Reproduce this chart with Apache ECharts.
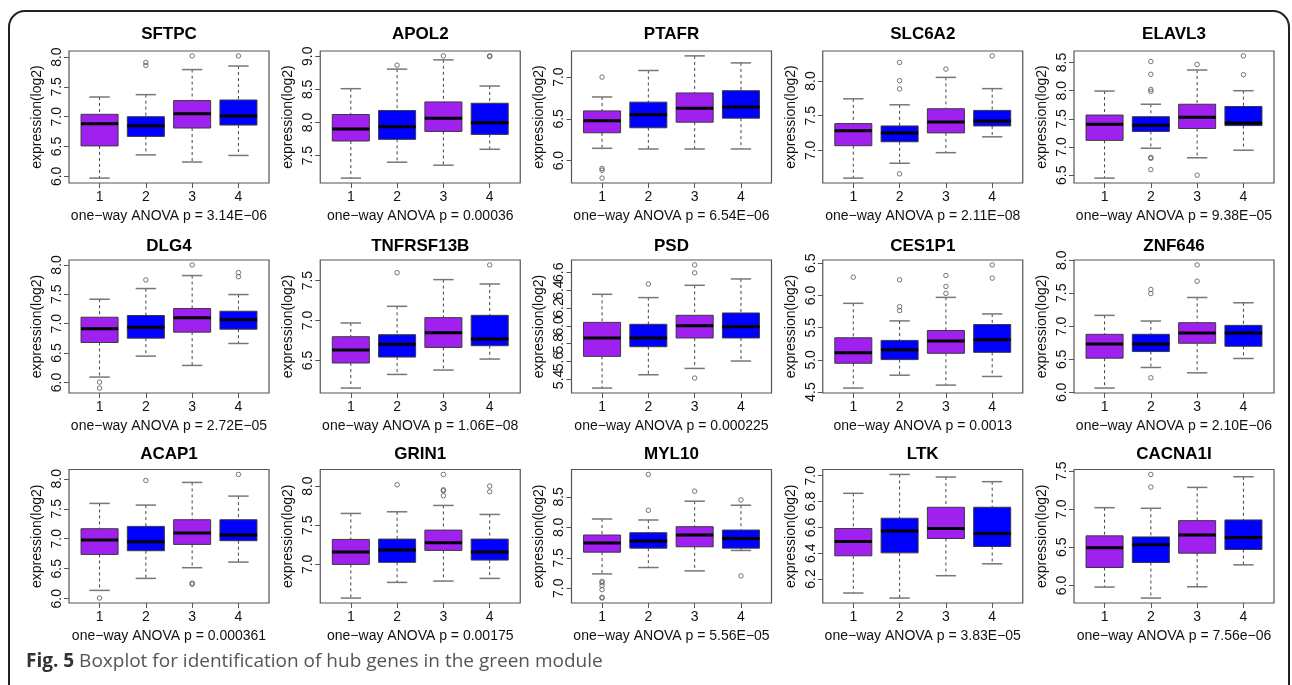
<!DOCTYPE html>
<html><head><meta charset="utf-8">
<script src="https://cdn.jsdelivr.net/npm/echarts@6/dist/echarts.min.js"></script>
<style>html,body{margin:0;padding:0;background:#fff}#c{width:1292px;height:685px}</style>
</head><body><div id="c"></div>
<script>
// ---------- DATA ----------
const groups = [1, 2, 3, 4];
const genes = ['SFTPC','APOL2','PTAFR','SLC6A2','ELAVL3','DLG4','TNFRSF13B','PSD','CES1P1','ZNF646','ACAP1','GRIN1','MYL10','LTK','CACNA1I'];
const pValues = ['3.14E\u221206','0.00036','6.54E\u221206','2.11E\u221208','9.38E\u221205','2.72E\u221205','1.06E\u221208','0.000225','0.0013','2.10E\u221206','0.000361','0.00175','5.56E\u221205','3.83E\u221205','7.56e\u221206'];

// box stats per group: [lower whisker, Q1, median, Q3, upper whisker]
const boxSFTPC = [[5.97,6.51,6.88,7.04,7.33],[6.36,6.67,6.85,7.00,7.37],[6.24,6.81,7.05,7.27,7.79],[6.35,6.86,7.01,7.28,7.85]];
const outSFTPC = [[2,7.91],[2,7.86],[3,8.02],[4,8.02]];
const ticksSFTPC = [6.0,6.5,7.0,7.5,8.0];

const boxAPOL2 = [[7.16,7.72,7.90,8.12,8.51],[7.40,7.745,7.935,8.18,8.805],[7.355,7.865,8.065,8.31,8.945],[7.595,7.82,7.995,8.29,8.55]];
const outAPOL2 = [[2,8.865],[3,9.005],[4,9.005],[4,8.995]];
const ticksAPOL2 = [7.5,8.0,8.5,9.0];

const boxPTAFR = [[6.147,6.333,6.476,6.595,6.762],[6.139,6.393,6.548,6.70,7.079],[6.139,6.46,6.627,6.81,7.254],[6.139,6.508,6.643,6.837,7.17]];
const outPTAFR = [[1,7.0],[1,5.905],[1,5.885],[1,5.79]];
const ticksPTAFR = [6.0,6.5,7.0];

const boxSLC6A2 = [[6.6,7.067,7.281,7.386,7.743],[6.814,7.124,7.252,7.352,7.657],[6.967,7.252,7.41,7.6,8.052],[7.195,7.352,7.424,7.576,7.89]];
const outSLC6A2 = [[2,8.267],[2,8.005],[2,7.886],[2,6.662],[3,8.171],[4,8.362]];
const ticksSLC6A2 = [7.0,7.5,8.0];

const boxELAVL3 = [[6.448,7.118,7.404,7.567,7.993],[6.978,7.276,7.386,7.538,7.759],[6.809,7.328,7.526,7.759,8.366],[6.943,7.38,7.427,7.719,7.999]];
const outELAVL3 = [[2,8.517],[2,8.29],[2,8.022],[2,7.987],[2,6.815],[2,6.80],[2,6.599],[3,8.465],[3,6.5],[4,8.617],[4,8.284]];
const ticksELAVL3 = [6.5,7.0,7.5,8.0,8.5];

const boxDLG4 = [[6.091,6.68,6.912,7.11,7.416],[6.448,6.754,6.94,7.139,7.598],[6.289,6.856,7.099,7.258,7.819],[6.663,6.906,7.065,7.212,7.496]];
const outDLG4 = [[1,6.006],[1,5.904],[2,7.745],[3,8.0],[4,7.87],[4,7.80]];
const ticksDLG4 = [6.0,6.5,7.0,7.5,8.0];

const boxTNFRSF13B = [[6.153,6.467,6.63,6.797,6.969],[6.324,6.542,6.701,6.822,7.178],[6.379,6.663,6.847,7.036,7.513],[6.517,6.684,6.768,7.065,7.458]];
const outTNFRSF13B = [[2,7.6],[4,7.697]];
const ticksTNFRSF13B = [6.5,7.0,7.5];

const boxPSD = [[5.303,5.658,5.864,6.039,6.353],[5.452,5.766,5.864,6.017,6.316],[5.523,5.864,6.002,6.118,6.454],[5.606,5.864,5.991,6.144,6.525]];
const outPSD = [[2,6.469],[3,6.682],[3,6.593],[3,5.415]];
const ticksPSD = [5.4,5.6,5.8,6.0,6.2,6.4,6.6];

const boxCES1P1 = [[4.562,4.947,5.112,5.343,5.878],[4.762,5.004,5.158,5.302,5.605],[4.608,5.102,5.292,5.456,5.97],[4.742,5.117,5.312,5.549,5.713]];
const outCES1P1 = [[1,6.284],[2,6.243],[2,5.826],[2,5.765],[3,6.31],[3,6.14],[3,6.032],[4,6.474],[4,6.269]];
const ticksCES1P1 = [4.5,5.0,5.5,6.0,6.5];

const boxZNF646 = [[6.065,6.518,6.734,6.879,7.166],[6.377,6.618,6.734,6.879,7.08],[6.296,6.744,6.9,7.055,7.437],[6.513,6.698,6.9,7.015,7.357]];
const outZNF646 = [[2,7.558],[2,7.497],[2,6.221],[3,7.93],[3,7.683]];
const ticksZNF646 = [6.0,6.5,7.0,7.5,8.0];

const boxACAP1 = [[6.139,6.739,6.978,7.167,7.589],[6.339,6.8,6.95,7.206,7.561],[6.517,6.906,7.094,7.317,7.939],[6.611,6.967,7.061,7.317,7.711]];
const outACAP1 = [[1,6.011],[2,7.972],[3,6.261],[3,6.24],[4,8.072]];
const ticksACAP1 = [6.0,6.5,7.0,7.5,8.0];

const boxGRIN1 = [[6.57,7.0,7.157,7.319,7.651],[6.77,7.026,7.183,7.323,7.672],[6.787,7.179,7.277,7.438,7.753],[6.821,7.055,7.157,7.323,7.638]];
const outGRIN1 = [[2,8.017],[3,8.149],[3,7.953],[3,7.94],[3,7.877],[4,8.0],[4,7.928]];
const ticksGRIN1 = [7.0,7.5,8.0];

const boxMYL10 = [[7.236,7.593,7.742,7.874,8.137],[7.341,7.659,7.775,7.912,8.121],[7.286,7.681,7.874,8.011,8.429],[7.621,7.659,7.819,7.956,8.363]];
const outMYL10 = [[1,7.115],[1,7.09],[1,7.044],[1,6.978],[1,6.852],[1,6.84],[2,8.28],[2,8.868],[3,8.593],[4,8.451],[4,7.203]];
const ticksMYL10 = [7.0,7.5,8.0,8.5];

const boxLTK = [[6.092,6.38,6.491,6.591,6.864],[6.053,6.403,6.573,6.671,7.01],[6.226,6.514,6.591,6.756,6.99],[6.318,6.452,6.552,6.756,6.954]];
const outLTK = [];
const ticksLTK = [6.2,6.4,6.6,6.8,7.0];

const boxCACNA1I = [[5.978,6.235,6.493,6.65,7.02],[5.834,6.3,6.532,6.636,7.012],[5.982,6.423,6.663,6.85,7.286],[6.27,6.471,6.628,6.859,7.426]];
const outCACNA1I = [[2,7.456],[2,7.291]];
const ticksCACNA1I = [6.0,6.5,7.0,7.5];

const caption = 'Boxplot for identification of hub genes in the green module';

// ---------- BUILD ----------
const boxes = [boxSFTPC,boxAPOL2,boxPTAFR,boxSLC6A2,boxELAVL3,boxDLG4,boxTNFRSF13B,boxPSD,boxCES1P1,boxZNF646,boxACAP1,boxGRIN1,boxMYL10,boxLTK,boxCACNA1I];
const outs = [outSFTPC,outAPOL2,outPTAFR,outSLC6A2,outELAVL3,outDLG4,outTNFRSF13B,outPSD,outCES1P1,outZNF646,outACAP1,outGRIN1,outMYL10,outLTK,outCACNA1I];
const ticks = [ticksSFTPC,ticksAPOL2,ticksPTAFR,ticksSLC6A2,ticksELAVL3,ticksDLG4,ticksTNFRSF13B,ticksPSD,ticksCES1P1,ticksZNF646,ticksACAP1,ticksGRIN1,ticksMYL10,ticksLTK,ticksCACNA1I];

const FONT = '"Liberation Sans", Arial, sans-serif';
const colLeft = [69, 320.25, 571.5, 822.75, 1074];
const rowTop = [51, 260, 469.5];
const rowH = [132, 133, 133.5];
const titleY = [34, 246, 454];
const PW = 200;
const fills = ['#A020F0', '#0000FF', '#A020F0', '#0000FF'];

function renderBox(params, api) {
  const x = api.value(0);
  const pMin = api.coord([x, api.value(1)]);
  const pQ1 = api.coord([x, api.value(2)]);
  const pMed = api.coord([x, api.value(3)]);
  const pQ3 = api.coord([x, api.value(4)]);
  const pMax = api.coord([x, api.value(5)]);
  const bw = api.size([0.8, 0])[0];
  const cw = bw * 0.55;
  const cx = pMin[0];
  const dash = {stroke: '#444', lineWidth: 1, lineDash: [3, 3]};
  const cap = {stroke: '#777', lineWidth: 1.5};
  return {
    type: 'group',
    children: [
      {type: 'line', shape: {x1: cx, y1: pMax[1], x2: cx, y2: pQ3[1]}, style: dash},
      {type: 'line', shape: {x1: cx, y1: pQ1[1], x2: cx, y2: pMin[1]}, style: dash},
      {type: 'line', shape: {x1: cx - cw / 2, y1: pMax[1], x2: cx + cw / 2, y2: pMax[1]}, style: cap},
      {type: 'line', shape: {x1: cx - cw / 2, y1: pMin[1], x2: cx + cw / 2, y2: pMin[1]}, style: cap},
      {type: 'rect', shape: {x: cx - bw / 2, y: pQ3[1], width: bw, height: pQ1[1] - pQ3[1]},
        style: {fill: fills[params.dataIndex], stroke: '#3a3a3a', lineWidth: 1}},
      {type: 'line', shape: {x1: cx - bw / 2, y1: pMed[1], x2: cx + bw / 2, y2: pMed[1]}, style: {stroke: '#000', lineWidth: 3}}
    ]
  };
}

const option = {
  animation: false,
  backgroundColor: '#fff',
  title: [], grid: [], xAxis: [], yAxis: [], series: [],
  graphic: [
    {type: 'rect', z: -10, shape: {x: 9, y: 11, width: 1280, height: 720, r: 16},
      style: {fill: 'none', stroke: '#222', lineWidth: 2}},
    {type: 'text', x: 26, y: 662,
      style: {text: '{b|Fig. 5} ' + caption, fill: '#555', font: '19px "Open Sans"', verticalAlign: 'middle',
        rich: {b: {fontWeight: 'bold', fontSize: 19, fontFamily: 'Open Sans', fill: '#333'}}}}
  ]
};

function yAxisDef(i, lo, hi, vals, withName) {
  return {
    type: 'value', gridIndex: i, position: 'left', offset: 0, min: lo, max: hi,
    axisLine: {show: false, onZero: false}, splitLine: {show: false},
    axisTick: {show: true, customValues: vals, length: 5, lineStyle: {color: '#555'}},
    axisLabel: {customValues: vals, rotate: 90, margin: 5, fontSize: 14, color: '#111', fontFamily: FONT,
      showMinLabel: true, showMaxLabel: true, hideOverlap: false, formatter: v => Number(v).toFixed(1)},
    name: withName ? 'expression(log2)' : '', nameLocation: 'middle', nameGap: 25,
    nameTextStyle: {fontSize: 14, color: '#111', fontFamily: FONT}
  };
}

genes.forEach((g, i) => {
  const r = Math.floor(i / 5), c = i % 5;
  const box = boxes[i], out = outs[i];
  const all = box.flat().concat(out.map(o => o[1]));
  const lo = Math.min(...all), hi = Math.max(...all), pad = (hi - lo) * 0.04;
  option.title.push({
    text: g, left: colLeft[c] + PW / 2, top: titleY[r], textAlign: 'center', textVerticalAlign: 'middle', padding: 0,
    textStyle: {fontSize: 17, fontWeight: 'bold', color: '#000', fontFamily: FONT}
  });
  option.grid.push({left: colLeft[c], top: rowTop[r], width: PW, height: rowH[r], show: true,
    borderColor: '#555', borderWidth: 1.2, backgroundColor: 'transparent'});
  option.xAxis.push({
    type: 'value', gridIndex: i, min: 0.34, max: 4.66,
    axisLine: {show: false, onZero: false}, splitLine: {show: false},
    axisTick: {show: true, customValues: groups, length: 5, lineStyle: {color: '#555'}},
    axisLabel: {customValues: groups, margin: 7, fontSize: 14, color: '#111', fontFamily: FONT,
      showMinLabel: true, showMaxLabel: true, hideOverlap: false, formatter: v => String(v)},
    name: 'one\u2212way ANOVA p = ' + pValues[i], nameLocation: 'middle', nameGap: 26,
    nameTextStyle: {fontSize: 14, color: '#111', fontFamily: FONT}
  });
  // two overlaid left axes (alternate ticks) so that every R tick label is drawn even where they touch
  const tEven = ticks[i].filter((_, k) => k % 2 === 0);
  const tOdd = ticks[i].filter((_, k) => k % 2 === 1);
  option.yAxis.push(yAxisDef(i, lo - pad, hi + pad, tEven, true));
  option.yAxis.push(yAxisDef(i, lo - pad, hi + pad, tOdd, false));
  option.series.push({
    type: 'custom', xAxisIndex: i, yAxisIndex: 2 * i, renderItem: renderBox, clip: false,
    encode: {x: 0, y: [1, 2, 3, 4, 5]},
    data: box.map((b, k) => [groups[k]].concat(b))
  });
  option.series.push({
    type: 'scatter', xAxisIndex: i, yAxisIndex: 2 * i, symbol: 'circle', symbolSize: 4.5,
    itemStyle: {color: 'rgba(0,0,0,0)', borderColor: '#555', borderWidth: 1},
    data: out
  });
});

const chart = echarts.init(document.getElementById('c'));
chart.setOption(option);
</script>
</body></html>
